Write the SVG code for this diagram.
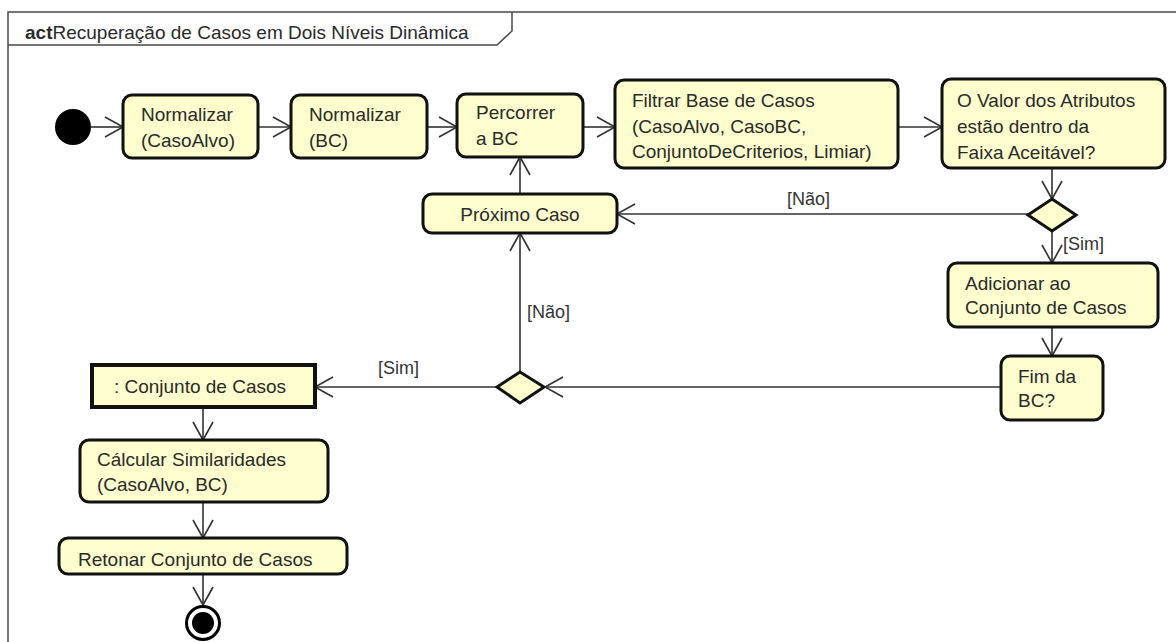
<svg xmlns="http://www.w3.org/2000/svg" width="1176" height="642" viewBox="0 0 1176 642">
  <style>
    .frame { fill: none; stroke: #4a4a4a; stroke-width: 1.5; }
    .action { fill: #fefecf; stroke: #111; stroke-width: 3; }
    .object { fill: #fefecf; stroke: #111; stroke-width: 4; }
    .decision { fill: #fefecf; stroke: #111; stroke-width: 3; }
    .flow { fill: none; stroke: #333; stroke-width: 1.6; marker-end: url(#open); }
    text { font-family: "Liberation Sans", Arial, sans-serif; font-size: 19px; fill: #2a2a2a; }
    .guard { font-size: 18px; fill: #333; }
  </style>
  <defs>
    <marker id="open" markerUnits="userSpaceOnUse" markerWidth="24" markerHeight="24" viewBox="-20 -12 22 24" refX="0" refY="0" orient="auto">
      <path d="M -18 -10 L 0 0 L -18 10" fill="none" stroke="#333" stroke-width="1.6"/>
    </marker>
  </defs>

  <rect width="1176" height="642" fill="#ffffff"/>

  <!-- activity frame and its name tab -->
  <g id="frame">
    <path class="frame" d="M 8 650 L 8 12 L 1180 12"/>
    <path class="frame" d="M 8 45 L 497 45 L 512 31 L 512 12"/>
    <text x="25" y="39"><tspan font-weight="bold">act</tspan>Recuperação de Casos em Dois Níveis Dinâmica</text>
  </g>

  <!-- control flows -->
  <g id="connectors">
    <line class="flow" x1="91" y1="127" x2="123" y2="127"/>
    <line class="flow" x1="258" y1="127" x2="291" y2="127"/>
    <line class="flow" x1="427" y1="127" x2="457" y2="127"/>
    <line class="flow" x1="583" y1="127" x2="615" y2="127"/>
    <line class="flow" x1="898" y1="127" x2="942" y2="127"/>
    <line class="flow" x1="1052" y1="168" x2="1052" y2="199"/>
    <line class="flow" x1="1028" y1="214" x2="617" y2="214"/>
    <line class="flow" x1="1052" y1="231" x2="1052" y2="263"/>
    <line class="flow" x1="1052" y1="327" x2="1052" y2="356"/>
    <line class="flow" x1="1001" y1="387" x2="545" y2="387"/>
    <line class="flow" x1="520" y1="372" x2="520" y2="233"/>
    <line class="flow" x1="520" y1="194" x2="520" y2="157"/>
    <line class="flow" x1="496" y1="387" x2="315" y2="387"/>
    <line class="flow" x1="203" y1="407" x2="203" y2="440"/>
    <line class="flow" x1="203" y1="502" x2="203" y2="538"/>
    <line class="flow" x1="203" y1="574" x2="203" y2="605"/>
    <text class="guard" x="787" y="205">[Não]</text>
    <text class="guard" x="1063" y="250">[Sim]</text>
    <text class="guard" x="527" y="318">[Não]</text>
    <text class="guard" x="378" y="374">[Sim]</text>
  </g>

  <g id="start">
    <circle cx="73" cy="127" r="18" fill="#000"/>
  </g>

  <g id="normalizar-caso-alvo">
    <rect class="action" x="123" y="95" width="135" height="63" rx="9"/>
    <text x="141" y="121">Normalizar</text>
    <text x="141" y="147">(CasoAlvo)</text>
  </g>

  <g id="normalizar-bc">
    <rect class="action" x="291" y="95" width="136" height="63" rx="9"/>
    <text x="309" y="121">Normalizar</text>
    <text x="309" y="147">(BC)</text>
  </g>

  <g id="percorrer-bc">
    <rect class="action" x="457" y="94" width="126" height="63" rx="9"/>
    <text x="476" y="119">Percorrer</text>
    <text x="476" y="145">a BC</text>
  </g>

  <g id="filtrar-base">
    <rect class="action" x="615" y="80" width="283" height="88" rx="9"/>
    <text x="632" y="107">Filtrar Base de Casos</text>
    <text x="632" y="133">(CasoAlvo, CasoBC,</text>
    <text x="632" y="158">ConjuntoDeCriterios, Limiar)</text>
  </g>

  <g id="valor-atributos">
    <rect class="action" x="942" y="79" width="223" height="89" rx="9"/>
    <text x="957" y="107">O Valor dos Atributos</text>
    <text x="957" y="133">estão dentro da</text>
    <text x="957" y="159">Faixa Aceitável?</text>
  </g>

  <g id="decisao-faixa">
    <polygon class="decision" points="1052,199 1076,215 1052,231 1028,215"/>
  </g>

  <g id="proximo-caso">
    <rect class="action" x="423" y="194" width="194" height="39" rx="9"/>
    <text x="520" y="221" text-anchor="middle">Próximo Caso</text>
  </g>

  <g id="adicionar-conjunto">
    <rect class="action" x="948" y="263" width="210" height="64" rx="9"/>
    <text x="965" y="290">Adicionar ao</text>
    <text x="965" y="314">Conjunto de Casos</text>
  </g>

  <g id="fim-bc">
    <rect class="action" x="1001" y="356" width="102" height="64" rx="9"/>
    <text x="1018" y="383">Fim da</text>
    <text x="1018" y="407">BC?</text>
  </g>

  <g id="decisao-fim">
    <polygon class="decision" points="520,372 544,387 520,403 497,387"/>
  </g>

  <g id="conjunto-casos">
    <rect class="object" x="92" y="365" width="223" height="42"/>
    <text x="200" y="393" text-anchor="middle">: Conjunto de Casos</text>
  </g>

  <g id="calcular-similaridades">
    <rect class="action" x="80" y="440" width="248" height="62" rx="9"/>
    <text x="97" y="466">Cálcular Similaridades</text>
    <text x="97" y="491">(CasoAlvo, BC)</text>
  </g>

  <g id="retornar-conjunto">
    <rect class="action" x="59" y="538" width="288" height="36" rx="9"/>
    <text x="78" y="566">Retonar Conjunto de Casos</text>
  </g>

  <g id="final">
    <circle cx="203" cy="623" r="16.5" fill="#fff" stroke="#000" stroke-width="3"/>
    <circle cx="203" cy="623" r="11" fill="#000"/>
  </g>
</svg>
